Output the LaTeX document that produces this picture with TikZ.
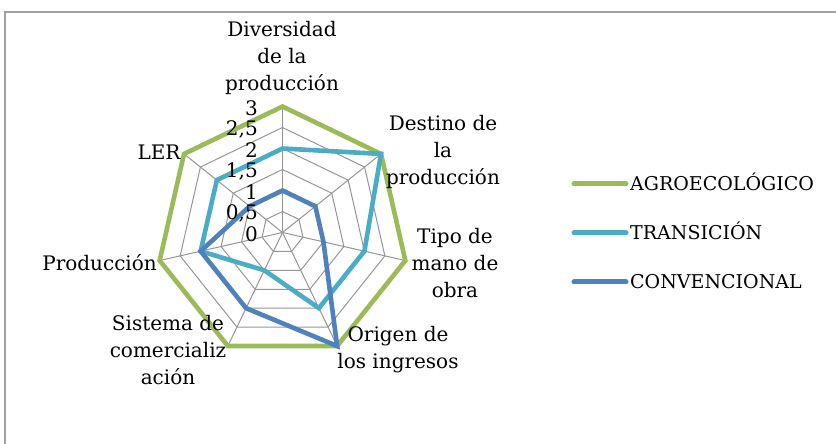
\documentclass[tikz,border=0pt]{standalone}
\usepackage{fontspec}
\setmainfont{DejaVu Serif}
\usetikzlibrary{positioning}
\definecolor{agro}{RGB}{155,187,89}
\definecolor{trans}{RGB}{75,172,198}
\definecolor{conv}{RGB}{79,129,189}
\definecolor{rejilla}{RGB}{150,150,150}
\definecolor{marco}{RGB}{160,160,160}

\begin{document}
\begin{tikzpicture}[x=1pt,y=1pt]
\tikzstyle{eje}=[draw=rejilla,line width=1pt]
\tikzstyle{serie}=[line width=4.6pt,line join=miter]
\tikzstyle{muestra}=[line width=5pt,line cap=round]
\tikzstyle{rotulo}=[align=center,inner sep=0pt,font=\fontsize{20}{27}\selectfont]
\tikzstyle{leyenda}=[anchor=base west,inner sep=0pt,font=\fontsize{19}{27}\selectfont]
\tikzstyle{escala}=[anchor=east,inner sep=0pt,font=\fontsize{20}{27}\selectfont]
\useasboundingbox (0,0) rectangle (836,444);
\draw[marco,line width=1.5pt] (5,-2) -- (5,432) -- (838,432);

\begin{scope}[shift={(282.5,211.5)}]
\coordinate (o) at (0,0);
\coordinate (d1) at (90:126);
\coordinate (d2) at (38.57:126);
\coordinate (d3) at (-12.86:126);
\coordinate (d4) at (-64.29:126);
\coordinate (d5) at (-115.71:126);
\coordinate (d6) at (-167.14:126);
\coordinate (d7) at (141.43:126);
% rejilla
\draw[eje] (o) -- (d1); \draw[eje] (o) -- (d2); \draw[eje] (o) -- (d3);
\draw[eje] (o) -- (d4); \draw[eje] (o) -- (d5); \draw[eje] (o) -- (d6);
\draw[eje] (o) -- (d7);
\draw[eje] (90:21) -- (38.57:21) -- (-12.86:21) -- (-64.29:21) -- (-115.71:21) -- (-167.14:21) -- (141.43:21) -- cycle;
\draw[eje] (90:42) -- (38.57:42) -- (-12.86:42) -- (-64.29:42) -- (-115.71:42) -- (-167.14:42) -- (141.43:42) -- cycle;
\draw[eje] (90:63) -- (38.57:63) -- (-12.86:63) -- (-64.29:63) -- (-115.71:63) -- (-167.14:63) -- (141.43:63) -- cycle;
\draw[eje] (90:84) -- (38.57:84) -- (-12.86:84) -- (-64.29:84) -- (-115.71:84) -- (-167.14:84) -- (141.43:84) -- cycle;
\draw[eje] (90:105) -- (38.57:105) -- (-12.86:105) -- (-64.29:105) -- (-115.71:105) -- (-167.14:105) -- (141.43:105) -- cycle;
\draw[eje] (d1) -- (d2) -- (d3) -- (d4) -- (d5) -- (d6) -- (d7) -- cycle;

% TRANSICION
\coordinate (t1) at (90:84);
\coordinate (t2) at (38.57:126);
\coordinate (t3) at (-12.86:84);
\coordinate (t4) at (-64.29:84);
\coordinate (t5) at (-115.71:42);
\coordinate (t6) at (-167.14:84);
\coordinate (t7) at (141.43:84);
% CONVENCIONAL
\coordinate (c1) at (90:42);
\coordinate (c2) at (38.57:42);
\coordinate (c3) at (-12.86:42);
\coordinate (c4) at (-64.29:126);
\coordinate (c5) at (-115.71:84);
\coordinate (c6) at (-167.14:84);
\coordinate (c7) at (141.43:42);

\draw[serie,agro] (d1) -- (d2) -- (d3) -- (d4) -- (d5) -- (d6) -- (d7) -- cycle;
\draw[serie,trans] (t1) -- (t2) -- (t3) -- (t4) -- (t5) -- (t6) -- (t7) -- cycle;
\draw[serie,conv] (c1) -- (c2) -- (c3) -- (c4) -- (c5) -- (c6) -- (c7) -- cycle;

% escala
\node[escala] (v0) at (-24.5,-1.5) {0};
\node[escala] (v1) at (-24.5,19.5) {0,5};
\node[escala] (v2) at (-24.5,40.5) {1};
\node[escala] (v3) at (-24.5,61.5) {1,5};
\node[escala] (v4) at (-24.5,82.5) {2};
\node[escala] (v5) at (-24.5,103.5) {2,5};
\node[escala] (v6) at (-24.5,124.5) {3};
\end{scope}

% rotulos de los ejes
\node[rotulo] (diversidad) at (282,386) {Diversidad\\de la\\producción};
\node[rotulo] (destino) at (443,292) {Destino de\\la\\producción};
\node[rotulo] (tipo) at (455,181) {Tipo de\\mano de\\obra};
\node[rotulo] (origen) at (398,94.5) {Origen de\\los ingresos};
\node[rotulo] (sistema) at (168,94) {Sistema de\\comercializ\\ación};
\node[rotulo,anchor=east] (produccion) at (157,181) {Producción};
\node[rotulo] (ler) at (159,292) {LER};

% leyenda
\node[leyenda] (lagro) at (630,253) {AGROECOLÓGICO};
\node[leyenda] (ltrans) at (630,204) {TRANSICIÓN};
\node[leyenda] (lconv) at (630,155) {CONVENCIONAL};
\coordinate (m1) at (574,260);
\coordinate (m2) at (574,211);
\coordinate (m3) at (574,162);
\draw[muestra,agro] (m1) -- ([xshift=-4pt]m1 -| lagro.west);
\draw[muestra,trans] (m2) -- ([xshift=-4pt]m2 -| ltrans.west);
\draw[muestra,conv] (m3) -- ([xshift=-4pt]m3 -| lconv.west);
\end{tikzpicture}
\end{document}
